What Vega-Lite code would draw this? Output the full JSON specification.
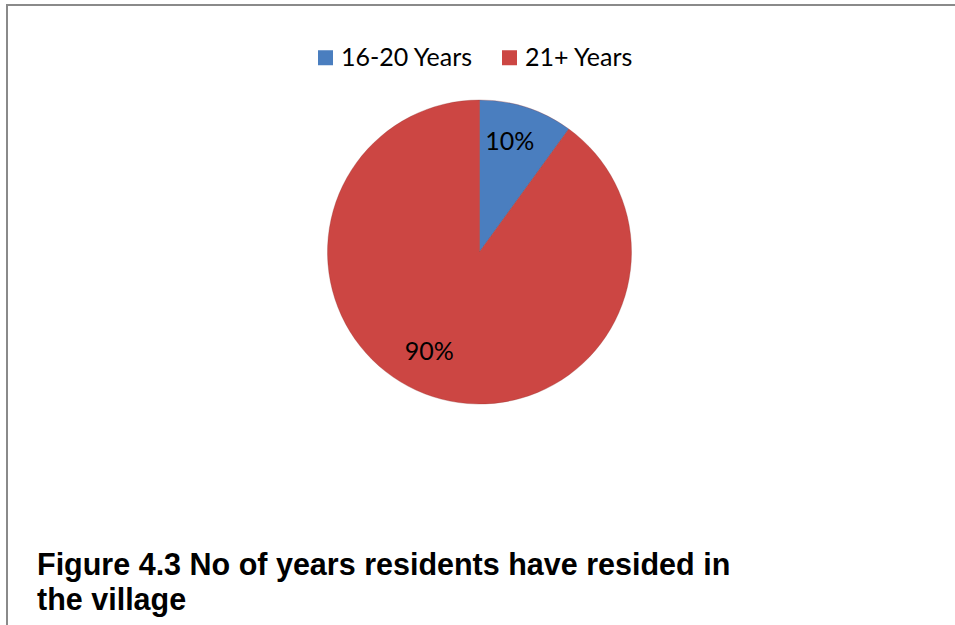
{
  "$schema": "https://vega.github.io/schema/vega-lite/v6.json",
  "autosize": "none",
  "width": 945,
  "height": 494,
  "padding": {"left": 7, "top": 5, "right": 3, "bottom": 126},
  "background": "white",
  "config": {"view": {"stroke": null}},
  "title": {
    "text": ["Figure 4.3 No of years residents have resided in", "the village"],
    "orient": "bottom",
    "anchor": "start",
    "frame": "group",
    "dx": 30,
    "offset": -85,
    "font": "Liberation Sans",
    "fontSize": 30.5,
    "fontWeight": "bold",
    "color": "#000000",
    "lineHeight": 35,
    "baseline": "top"
  },
  "layer": [
    {
      "data": {"values": [{}]},
      "mark": {"type": "rect", "fill": null, "stroke": "#8a8a8a", "strokeWidth": 2},
      "encoding": {
        "x": {"value": 0},
        "x2": {"value": 955},
        "y": {"value": 0},
        "y2": {"value": 630}
      }
    },
    {
      "data": {"values": [
        {"category": "16-20 Years", "percent": 10, "label": "10%", "order": 1},
        {"category": "21+ Years", "percent": 90, "label": "90%", "order": 2}
      ]},
      "layer": [
        {
          "mark": {"type": "arc", "outerRadius": 152, "stroke": "#8e2f2c", "strokeWidth": 0.6, "strokeOpacity": 0.5},
          "encoding": {
            "theta": {"field": "percent", "type": "quantitative", "stack": true},
            "order": {"field": "order", "type": "quantitative"},
            "color": {
              "field": "category",
              "type": "nominal",
              "scale": {"domain": ["16-20 Years", "21+ Years"], "range": ["#4a7ebf", "#cc4643"]},
              "legend": {
                "title": null,
                "orient": "none",
                "legendX": 306,
                "legendY": 40,
                "padding": 0,
                "direction": "horizontal",
                "columns": 2,
                "symbolType": "square",
                "symbolSize": 225,
                "symbolStrokeWidth": 0,
                "labelFont": "Lato",
                "labelFontSize": 25,
                "labelColor": "#000000",
                "labelOffset": 3,
                "columnPadding": 23,
                "labelLimit": 300
              }
            }
          }
        },
        {
          "mark": {"type": "text", "radius": 114, "font": "Lato", "fontSize": 25, "color": "#000000",
                   "dx": {"expr": "datum.order == 1 ? -5 : -15"},
                   "dy": {"expr": "datum.order == 1 ? -2 : -8"}},
          "encoding": {
            "theta": {"field": "percent", "type": "quantitative", "stack": true},
            "order": {"field": "order", "type": "quantitative"},
            "text": {"field": "label", "type": "nominal"}
          }
        }
      ]
    }
  ]
}
